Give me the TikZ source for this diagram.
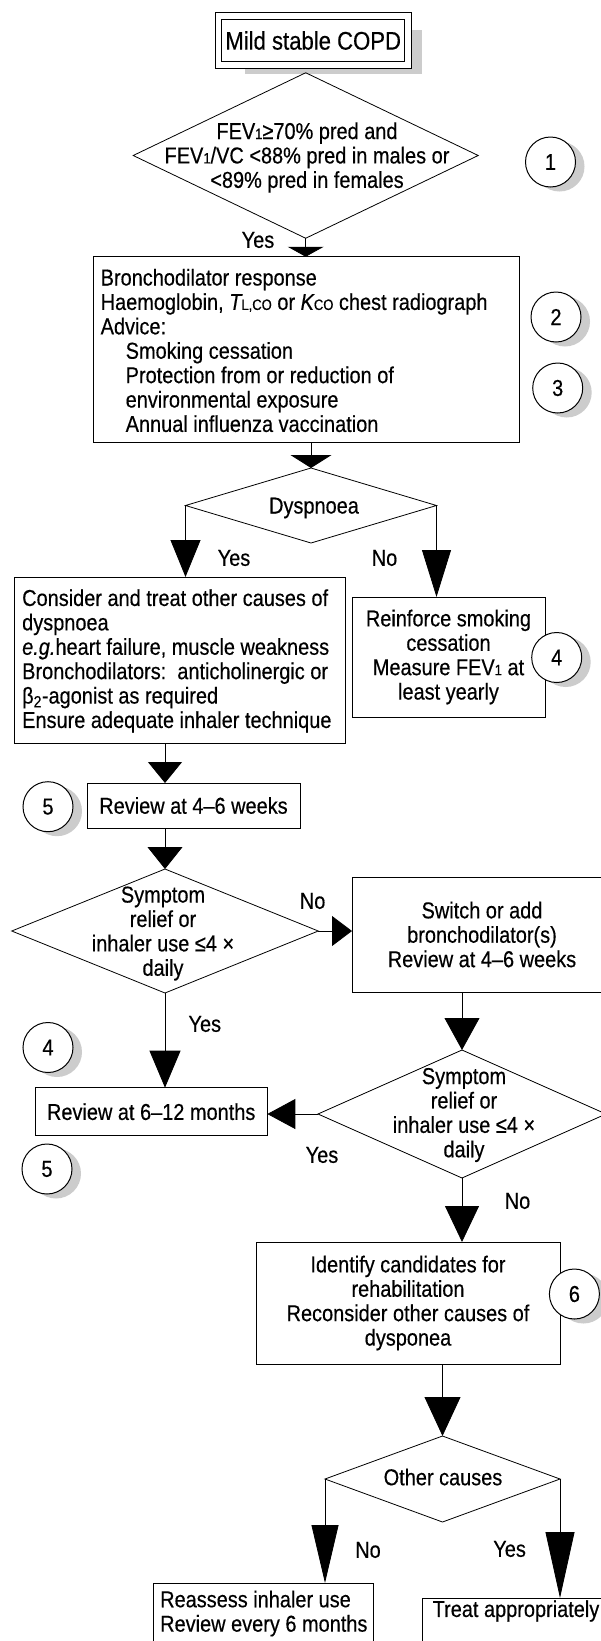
\documentclass[tikz,border=0pt]{standalone}
\usepackage{fontspec}
\setmainfont{Liberation Sans}[FakeStretch=0.867,FakeBold=0.4]
\usetikzlibrary{arrows.meta,shapes.geometric}
\newcommand\sm[1]{{\fontsize{15}{15}\selectfont #1}}
\begin{document}
\begin{tikzpicture}[x=1pt,y=-1pt,
  every node/.style={font=\fontsize{23}{24.4}\selectfont},
  box/.style={draw, line width=1pt, fill=white, inner sep=0pt, outer sep=0pt},
  dia/.style={draw, diamond, line width=0.8pt, inner sep=0pt, outer sep=0pt},
  lbl/.style={inner sep=0pt},
  num/.style={draw, circle, line width=1pt, fill=white, minimum size=50pt, inner sep=0pt},
  shd/.style={fill=gray!40, draw=none},
  con/.style={line width=0.8pt}
]
\useasboundingbox (0,0) rectangle (601,1641);
\fill[white] (0,0) rectangle (601,1641);

% top box
\fill[shd] (245,30) rectangle (421.7,74);
\node[box, double, double distance=5.5pt, line width=1.1pt, minimum width=189.7pt, minimum height=49pt, font=\fontsize{25.5}{28}\selectfont] (top) at (313.2,40.5) {Mild stable COPD};

% diamonds
\node[dia, minimum width=345pt, minimum height=165.5pt] (d1) at (305.7,155.5) {};
\node[dia, minimum width=251pt, minimum height=75pt] (d2) at (311,505.5) {};
\node[dia, minimum width=306.5pt, minimum height=124pt] (d3) at (165,931) {};
\node[dia, minimum width=288pt, minimum height=128pt] (d4) at (462,1114) {};
\node[dia, minimum width=235pt, minimum height=86pt] (d5) at (442.5,1479) {};

\node[lbl, align=center] (t1) at (307,157.5) {FEV\sm{1}≥70\% pred and\\FEV\sm{1}/VC <88\% pred in males or\\<89\% pred in females};
\node[lbl] (t2) at (314,508) {Dyspnoea};
\node[lbl, align=center] (t3) at (163,933.5) {Symptom\\relief or\\inhaler use ≤4 ×\\daily};
\node[lbl, align=center] (t4) at (464,1115) {Symptom\\relief or\\inhaler use ≤4 ×\\daily};
\node[lbl] (t5) at (443,1477) {Other causes};

% boxes
\node[box, minimum width=426pt, minimum height=185.3pt] (b2) at (306,349.4) {};
\node[lbl, anchor=west, align=left] (t6) at (100.5,350.5)
 {Bronchodilator response\\
  Haemoglobin, {\itshape T}\sm{L,CO} or {\itshape K}\sm{CO} chest radiograph\\
  Advice:\\
  \hspace*{25pt}Smoking cessation\\
  \hspace*{25pt}Protection from or reduction of\\
  \hspace*{25pt}environmental exposure\\
  \hspace*{25pt}Annual influenza vaccination};
\node[box, minimum width=331pt, minimum height=166pt] (b3) at (179.5,660) {};
\node[lbl, anchor=west, align=left] (t7) at (22,661)
 {Consider and treat other causes of\\
  dyspnoea\\
  {\itshape e.g.}heart failure, muscle weakness\\
  Bronchodilators:\ \ anticholinergic or\\
  β\textsubscript{2}-agonist as required\\
  Ensure adequate inhaler technique};
\node[box, minimum width=193pt, minimum height=120pt, align=center] (b4) at (448.5,657)
 {Reinforce smoking\\cessation\\Measure FEV\sm{1} at\\least yearly};
\node[box, minimum width=213pt, minimum height=45pt] (b5) at (193.5,805.5) {Review at 4–6 weeks};
\node[box, minimum width=260pt, minimum height=115pt, align=center] (b6) at (482,934.5)
 {Switch or add\\bronchodilator(s)\\Review at 4–6 weeks};
\node[box, minimum width=232.3pt, minimum height=48pt] (b7) at (151.2,1111.7) {Review at 6–12 months};
\node[box, minimum width=304pt, minimum height=122pt, align=center] (b8) at (408,1303)
 {Identify candidates for\\rehabilitation\\Reconsider other causes of\\dysponea};
\node[box, minimum width=220pt, minimum height=67pt] (b9) at (263.3,1616.5) {};
\node[lbl, anchor=west, align=left] (t8) at (160,1613.5)
 {Reassess inhaler use\\Review every 6 months};
\node[box, minimum width=190pt, minimum height=52pt] (b10) at (517.7,1624) {};
\node[lbl] (t9) at (516,1611) {Treat appropriately};

% numbered circles
\foreach \n/\x/\y/\t in {c1/550.5/162/1, c2/556/317/2, c3/557.7/388/3, c4a/556.7/657.5/4,
  c5a/48/806.7/5, c4b/48/1047.5/4, c5b/47/1169/5, c6/574.4/1294/6}{
  \fill[shd] ({\x+9},{\y+4.5}) circle[radius=25pt];
  \node[num] (\n) at (\x,\y) {\t};
}

% connectors
\draw[con, -{Triangle[length=10pt,width=36pt]}] (d1.south) -- (d1.south |- b2.north);
\draw[con, -{Triangle[length=13pt,width=41pt]}] (d2.north |- b2.south) -- (d2.north);
\draw[con, -{Triangle[length=37pt,width=30pt]}] (d2.west) -- (d2.west |- b3.north);
\draw[con, -{Triangle[length=47pt,width=29pt]}] (d2.east) -- (d2.east |- b4.north);
\draw[con, -{Triangle[length=21pt,width=34pt]}] (d3.north |- b3.south) -- (d3.north |- b5.north);
\draw[con, -{Triangle[length=22pt,width=35pt]}] (d3.north |- b5.south) -- (d3.north);
\draw[con, -{Triangle[length=20pt,width=30pt]}] (d3.east) -- (d3.east -| b6.west);
\draw[con, -{Triangle[length=32pt,width=35pt]}] (d4.north |- b6.south) -- (d4.north);
\draw[con, -{Triangle[length=37pt,width=31pt]}] (d3.south) -- (d3.south |- b7.north);
\draw[con, -{Triangle[length=28pt,width=30pt]}] (d4.west) -- (d4.west -| b7.east);
\draw[con, -{Triangle[length=36pt,width=34pt]}] (d4.south) -- (d4.south |- b8.north);
\draw[con, -{Triangle[length=39pt,width=36pt]}] (d5.north |- b8.south) -- (d5.north);
\draw[con, -{Triangle[length=58pt,width=27pt]}] (d5.west) -- (d5.west |- b9.north);
\draw[con, -{Triangle[length=66pt,width=29pt]}] (d5.east) -- (d5.east |- b10.north);

% labels
\node[lbl] (y1) at (258,240) {Yes};
\node[lbl] (y2) at (234,558) {Yes};
\node[lbl] (n2) at (384.5,558) {No};
\node[lbl] (n3) at (312.6,901) {No};
\node[lbl] (y3) at (204.8,1024) {Yes};
\node[lbl] (y4) at (322,1155) {Yes};
\node[lbl] (n4) at (517.5,1201) {No};
\node[lbl] (n5) at (368,1550) {No};
\node[lbl] (y5) at (509.6,1549) {Yes};
\end{tikzpicture}
\end{document}
